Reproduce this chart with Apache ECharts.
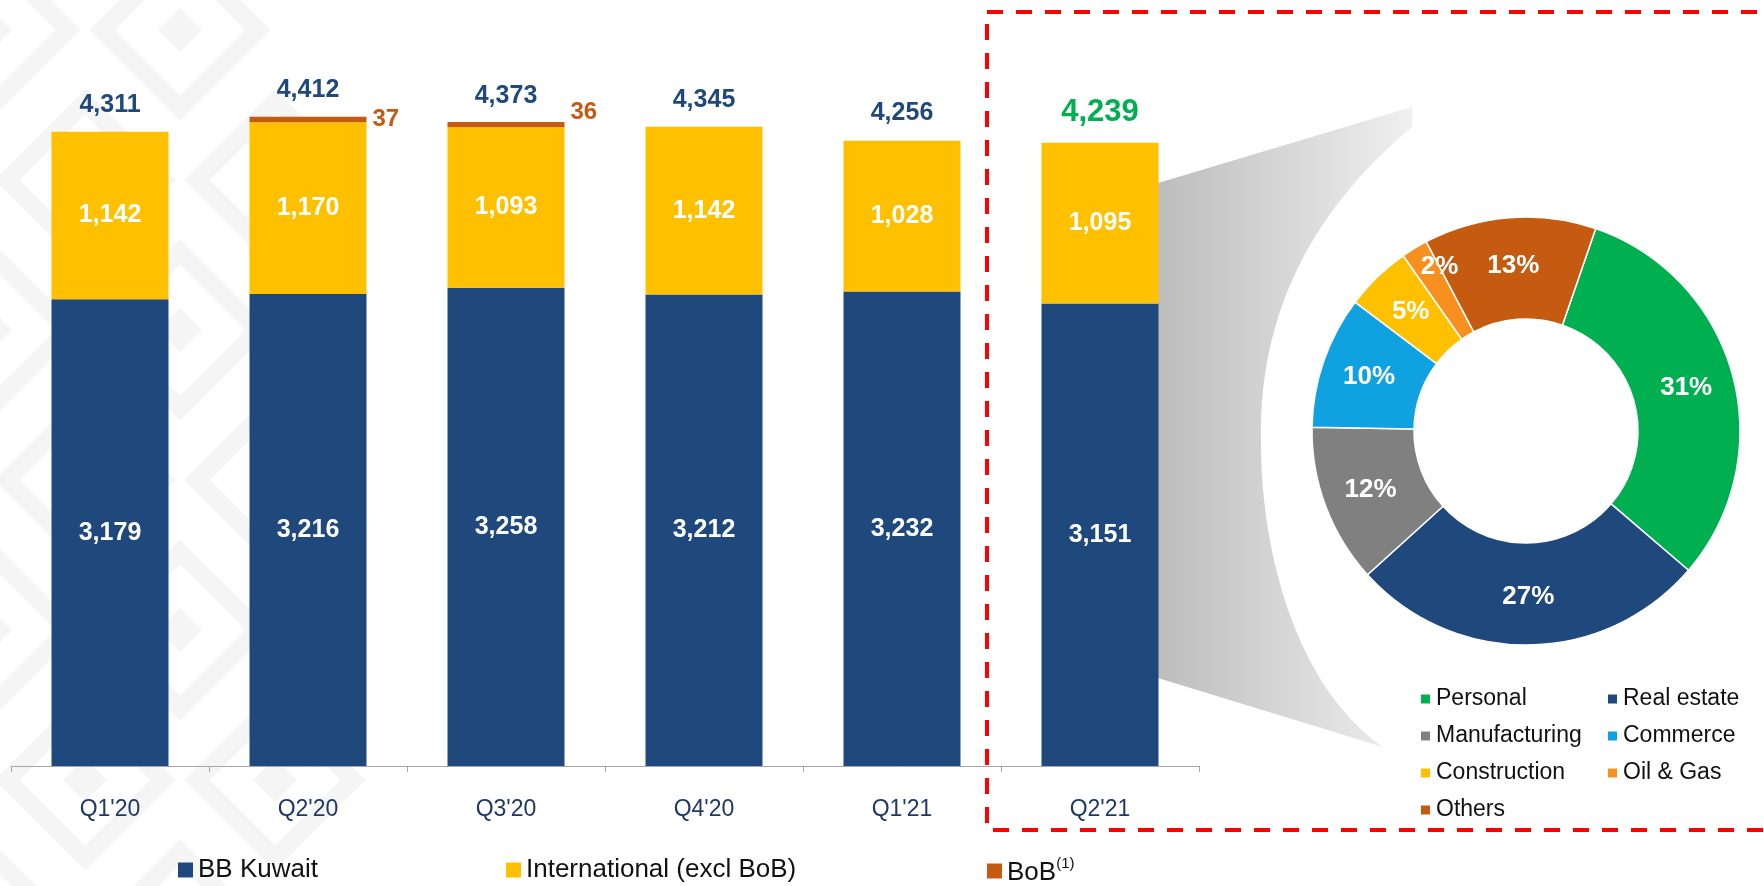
<!DOCTYPE html>
<html>
<head>
<meta charset="utf-8">
<script src="https://cdn.jsdelivr.net/npm/echarts@6/dist/echarts.min.js"></script>
<style>
  html, body { margin: 0; padding: 0; background: #ffffff; }
  #chart { width: 1764px; height: 886px; }
</style>
</head>
<body>
<div id="chart"></div>
<script>
// Quarterly loan book (KWD mn) by segment
const categories = ["Q1'20", "Q2'20", "Q3'20", "Q4'20", "Q1'21", "Q2'21"];
const bbKuwait = [3179, 3216, 3258, 3212, 3232, 3151];
const international = [1142, 1170, 1093, 1142, 1028, 1095];
const bob = ['-', 37, 36, '-', '-', '-'];
const totals = [4311, 4412, 4373, 4345, 4256, 4239];

// Q2'21 sector split (%)
const sectorNames = ['Personal', 'Real estate', 'Manufacturing', 'Commerce', 'Construction', 'Oil & Gas', 'Others'];
const sectorShares = [31, 27, 12, 10, 5, 2, 13];
const sectorColors = ['#00B050', '#1F497D', '#808080', '#10A1E1', '#FFC000', '#F7901E', '#C55A11'];

const FONT = 'Arial, "Liberation Sans", sans-serif';
const NAVY = '#1F497D';
const GOLD = '#FFC000';
const RUST = '#C55A11';

// faint lattice watermark on the left side
const watermark = [];
for (let row = -1; row < 7; row++) {
  for (let col = 0; col < 3; col++) {
    const cx = col * 190 + (row % 2 ? 95 : 0) - 10;
    const cy = row * 150 + 30;
    if (cx > 350) continue;
    watermark.push({
      type: 'polygon', silent: true, z: -10,
      shape: { points: [[cx, cy - 78], [cx + 78, cy], [cx, cy + 78], [cx - 78, cy]] },
      style: { fill: 'none', stroke: '#f5f5f5', lineWidth: 18 }
    });
    watermark.push({
      type: 'polygon', silent: true, z: -10,
      shape: { points: [[cx, cy - 22], [cx + 22, cy], [cx, cy + 22], [cx - 22, cy]] },
      style: { fill: '#f5f5f5' }
    });
  }
}

// cubic bezier sampler for the zoom-out wedge outline
function bezier(p0, p1, p2, p3, n) {
  const pts = [];
  for (let i = 0; i <= n; i++) {
    const t = i / n, u = 1 - t;
    pts.push([
      u * u * u * p0[0] + 3 * u * u * t * p1[0] + 3 * u * t * t * p2[0] + t * t * t * p3[0],
      u * u * u * p0[1] + 3 * u * u * t * p1[1] + 3 * u * t * t * p2[1] + t * t * t * p3[1]
    ]);
  }
  return pts;
}
const wedge = [[1158, 183], [1412, 107], [1412, 127]]
  .concat(bezier([1412, 127], [1300, 220], [1258, 330], [1261, 443], 24).slice(1))
  .concat(bezier([1261, 443], [1261, 560], [1300, 690], [1383, 747], 24).slice(1))
  .concat([[1158, 678]]);

const chart = echarts.init(document.getElementById('chart'));

const legendText = { fontFamily: FONT, fontSize: 26, color: '#111111' };
const pieLegendText = { fontFamily: FONT, fontSize: 23, color: '#111111', lineHeight: 26 };

chart.setOption({
  backgroundColor: '#ffffff',
  animation: false,
  textStyle: { fontFamily: FONT },
  grid: { left: 11, right: 565, top: 32, bottom: 120, containLabel: false },
  xAxis: {
    type: 'category',
    data: categories,
    axisLine: { lineStyle: { color: '#A6A6A6', width: 1 } },
    axisTick: { show: true, length: 6, lineStyle: { color: '#A6A6A6' } },
    axisLabel: { color: '#1F3864', fontSize: 23, margin: 32, fontFamily: FONT }
  },
  yAxis: { type: 'value', min: 0, max: 5000, show: false },
  legend: [
    { data: ['BB Kuwait'], left: 178, top: 857, itemWidth: 15, itemHeight: 15, padding: 0, icon: 'rect', textStyle: legendText },
    { data: ['International (excl BoB)'], left: 506, top: 857, itemWidth: 15, itemHeight: 15, padding: 0, icon: 'rect', textStyle: legendText },
    {
      data: ['BoB'], left: 987, top: 856, itemWidth: 15, itemHeight: 15, padding: 0, icon: 'rect',
      formatter: () => '{a|BoB}{s|(1)}',
      textStyle: {
        rich: {
          a: { fontFamily: FONT, fontSize: 26, color: '#111111', lineHeight: 30, verticalAlign: 'bottom' },
          s: { fontFamily: FONT, fontSize: 15, color: '#111111', lineHeight: 30, verticalAlign: 'top' }
        }
      }
    },
    {
      data: ['Personal', 'Manufacturing', 'Construction', 'Others'], orient: 'vertical',
      left: 1419, top: 686, itemWidth: 11, itemHeight: 11, itemGap: 11, padding: 0, icon: 'rect',
      textStyle: pieLegendText
    },
    {
      data: ['Real estate', 'Commerce', 'Oil & Gas'], orient: 'vertical',
      left: 1606, top: 686, itemWidth: 11, itemHeight: 11, itemGap: 11, padding: 0, icon: 'rect',
      textStyle: pieLegendText
    }
  ],
  series: [
    {
      name: 'BB Kuwait', type: 'bar', stack: 'loans', barWidth: 117, data: bbKuwait,
      itemStyle: { color: NAVY },
      label: { show: true, position: 'inside', color: '#ffffff', fontSize: 25, fontWeight: 'bold',
        formatter: p => p.value.toLocaleString('en-US') }
    },
    {
      name: 'International (excl BoB)', type: 'bar', stack: 'loans', barWidth: 117, data: international,
      itemStyle: { color: GOLD },
      label: { show: true, position: 'inside', color: '#ffffff', fontSize: 25, fontWeight: 'bold',
        formatter: p => p.value.toLocaleString('en-US') }
    },
    {
      name: 'BoB', type: 'bar', stack: 'loans', barWidth: 117,
      data: bob.map((v, i) => (i === 2 && v !== '-') ? { value: v, label: { offset: [0, -12] } } : v),
      itemStyle: { color: RUST },
      label: { show: true, position: 'right', distance: 6, color: RUST, fontSize: 24, fontWeight: 'bold' }
    },
    {
      name: 'Total', type: 'scatter', symbolSize: 1, silent: true,
      itemStyle: { color: 'transparent', opacity: 1 },
      data: totals.map((v, i) => i === totals.length - 1
        ? { value: v, label: { color: '#00B050', fontSize: 31, fontWeight: 'bold' } }
        : v),
      label: { show: true, position: 'top', distance: 15, color: NAVY, fontSize: 25, fontWeight: 'bold',
        opacity: 1, formatter: p => p.value.toLocaleString('en-US') },
      emphasis: { disabled: true },
      z: 5
    },
    {
      name: 'Sector', type: 'pie', center: [1526, 431], radius: [112, 214],
      startAngle: 71, clockwise: true, avoidLabelOverlap: false, z: 5,
      itemStyle: { borderColor: '#ffffff', borderWidth: 1.5 },
      label: { show: true, position: 'inside', color: '#ffffff', fontSize: 26, fontWeight: 'bold',
        formatter: '{c}%' },
      labelLine: { show: false },
      emphasis: { disabled: true },
      labelLayout: p => (p.dataIndex === 5 ? { dy: -22 } : {}),
      data: sectorNames.map((n, i) => ({ name: n, value: sectorShares[i], itemStyle: { color: sectorColors[i] } }))
    }
  ],
  graphic: watermark.concat([
    {
      type: 'polygon', silent: true, z: 1,
      shape: { points: wedge },
      style: {
        fill: {
          type: 'linear', x: 0, y: 0, x2: 1, y2: 0,
          colorStops: [{ offset: 0, color: '#bdbdbd' }, { offset: 1, color: '#f0f0f0' }]
        }
      }
    },
    {
      type: 'rect', silent: true, z: 20,
      shape: { x: 987, y: 12, width: 820, height: 818 },
      style: { fill: 'none', stroke: '#FF0000', lineWidth: 4, lineDash: [16, 13] }
    }
  ])
});
</script>
</body>
</html>
